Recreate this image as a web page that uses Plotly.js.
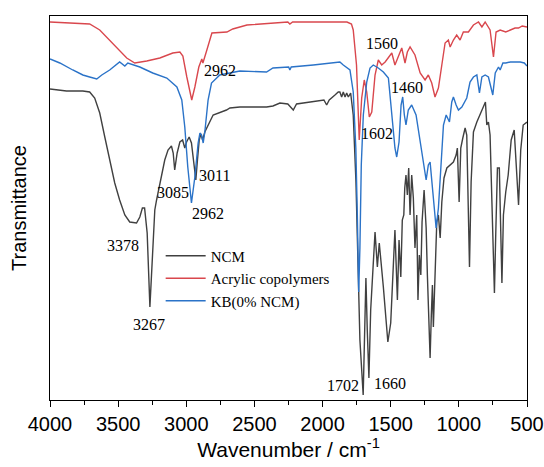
<!DOCTYPE html>
<html>
<head>
<meta charset="utf-8">
<script src="https://cdn.plot.ly/plotly-3.0.1.min.js"></script>
<style>html,body{margin:0;padding:0;background:#fff;}#chart{width:544px;height:467px;}</style>
</head>
<body>
<div id="chart"></div>
<script>
// Wavenumbers (cm-1) and transmittance (arbitrary units)
const ncmWave = [4000,3879,3759,3709,3672,3635,3598,3562,3525,3489,3451,3415,3365,3341,3322,3306,3287,3267,3248,3231,3218,3194,3158,3134,3109,3096,3085,3067,3047,3027,3011,2998,2979,2962,2945,2930,2918,2905,2893,2880,2864,2840,2803,2705,2680,2607,2558,2484,2411,2364,2313,2255,2215,2191,2070,1990,1970,1951,1909,1897,1885,1873,1860,1848,1835,1823,1811,1794,1775,1755,1738,1726,1702,1691,1682,1672,1660,1647,1630,1615,1598,1584,1554,1521,1500,1481,1469,1451,1439,1426,1415,1404,1397,1388,1378,1368,1358,1346,1334,1322,1309,1300,1290,1279,1270,1255,1240,1231,1221,1211,1202,1194,1187,1175,1162,1150,1137,1125,1109,1088,1064,1040,1020,1011,998,986,971,954,942,930,922,910,893,868,844,820,805,795,783,771,758,746,739,729,717,703,692,684,673,660,656,638,616,594,579,562,546,528,500];
const ncmT = [311,309,309,308,302,287,263,240,217,200,185,178,177,183,192,192,167,93,150,190,200,217,240,250,254,247,230,247,258,260,252,258,263,257,240,220,240,260,266,260,268,275,285,290,292,293,293,293,293,294,297,296,290,296,298,300,295,300,305,307,308,308,303,308,303,307,303,307,285,218,118,60,5,70,122,70,22,90,140,168,133,157,113,58,77,133,170,100,160,123,180,185,212,225,205,232,185,225,202,152,185,100,145,125,178,210,172,125,78,42,85,115,73,135,178,185,162,198,222,232,235,238,245,252,198,252,262,272,265,185,133,218,268,278,285,293,298,275,278,265,202,145,107,168,232,232,152,117,185,205,208,225,260,270,240,195,250,275,278];

const acrWave = [4000,3782,3709,3635,3540,3437,3378,3290,3194,3099,3047,3025,2996,2974,2960,2937,2908,2886,2878,2849,2812,2702,2659,2555,2364,2255,2240,2220,2070,1821,1788,1775,1751,1731,1713,1694,1676,1657,1639,1615,1591,1566,1541,1517,1492,1469,1444,1419,1395,1378,1358,1322,1284,1248,1224,1199,1175,1150,1125,1101,1077,1064,1040,1016,991,967,930,893,856,831,807,771,746,727,697,656,622,588,562,535,500];
const acrT = [378,377,376,370,357,342,337,339,342,347,348,344,323,310,300,313,333,341,337,350,367,368,371,375,377,378,376,378,378,378,376,370,335,260,302,320,308,283,288,325,340,335,338,342,347,335,343,352,337,348,353,345,327,320,325,317,303,312,335,357,360,353,360,365,360,368,368,375,378,373,378,370,343,368,370,368,370,372,372,374,373];

const kbWave = [4000,3928,3833,3759,3709,3657,3620,3562,3489,3451,3429,3341,3246,3143,3069,3033,3011,2989,2962,2937,2913,2900,2888,2876,2864,2840,2815,2754,2607,2411,2364,2249,2240,2230,2068,1946,1873,1848,1799,1775,1756,1745,1735,1726,1716,1701,1676,1652,1628,1591,1554,1517,1492,1469,1456,1439,1424,1412,1400,1388,1371,1346,1314,1284,1260,1240,1224,1211,1191,1167,1150,1133,1113,1093,1069,1052,1040,1020,1003,978,942,918,893,868,849,831,807,783,751,733,709,697,677,656,622,588,550,520,500];
const kbT = [341,337,330,325,323,321,325,330,338,334,337,333,327,322,313,300,273,233,197,223,257,267,265,257,268,300,317,325,329,328,332,333,330,333,335,337,338,335,330,308,252,185,108,152,235,285,318,332,335,332,328,322,285,252,243,258,295,303,285,275,290,295,285,258,238,220,235,238,208,172,192,235,275,285,278,298,303,295,290,293,302,318,323,325,307,323,325,323,305,327,333,330,337,337,338,338,338,337,334];

const seriesNames = ['NCM','Acrylic copolymers','KB(0% NCM)'];
const seriesColors = ['#404040','#d9474d','#2b73c8'];

const peakLabels = ['2962','3085','3011','2962','3378','3267','1560','1460','1602','1702','1660'];
const peakLabelX = [2754,3099,2790,2842,3466,3275,1564,1380,1601,1850,1505];
const peakLabelY = [330,208,225,187,155,76,357,313,267,15,17];

const traces = [
  {x: ncmWave, y: ncmT, name: seriesNames[0], color: seriesColors[0]},
  {x: acrWave, y: acrT, name: seriesNames[1], color: seriesColors[1]},
  {x: kbWave, y: kbT, name: seriesNames[2], color: seriesColors[2]}
].map(s => ({type:'scatter', mode:'lines', x:s.x, y:s.y, name:s.name,
  line:{color:s.color, width:1.4}}));

const serif = 'Liberation Serif, Times New Roman, serif';
const sans = 'Liberation Sans, Arial, sans-serif';

const layout = {
  width:544, height:467,
  margin:{l:50, r:17, t:16, b:67},
  paper_bgcolor:'#fff', plot_bgcolor:'#fff',
  showlegend:true,
  legend:{x:0.232, y:0.418, xanchor:'left', yanchor:'top', bgcolor:'rgba(0,0,0,0)',
    font:{family:serif, size:15, color:'#000'}, tracegroupgap:0, itemwidth:40},
  xaxis:{range:[4000,500], dtick:500, tick0:500, ticks:'outside', ticklen:6, tickwidth:1,
    tickcolor:'#000', showline:true, linecolor:'#000', linewidth:1.2, mirror:true,
    showgrid:false, zeroline:false,
    tickfont:{family:sans, size:20, color:'#000'},
    minor:{dtick:250, tick0:500, ticks:'outside', ticklen:4, tickcolor:'#000', showgrid:false},
    title:{text:'Wavenumber / cm<sup>-1</sup>', font:{family:sans, size:21, color:'#000'}, standoff:8}},
  yaxis:{range:[0,384], showticklabels:false, ticks:'', showline:true, linecolor:'#000',
    linewidth:1.2, mirror:true, showgrid:false, zeroline:false,
    title:{text:'Transmittance', font:{family:sans, size:20, color:'#000'}, standoff:16}},
  annotations: peakLabels.map((t,i)=>({x:peakLabelX[i], y:peakLabelY[i], text:t, showarrow:false,
    xref:'x', yref:'y', font:{family:serif, size:16, color:'#000'}}))
};

Plotly.newPlot('chart', traces, layout, {displayModeBar:false, staticPlot:true});
</script>
</body>
</html>
